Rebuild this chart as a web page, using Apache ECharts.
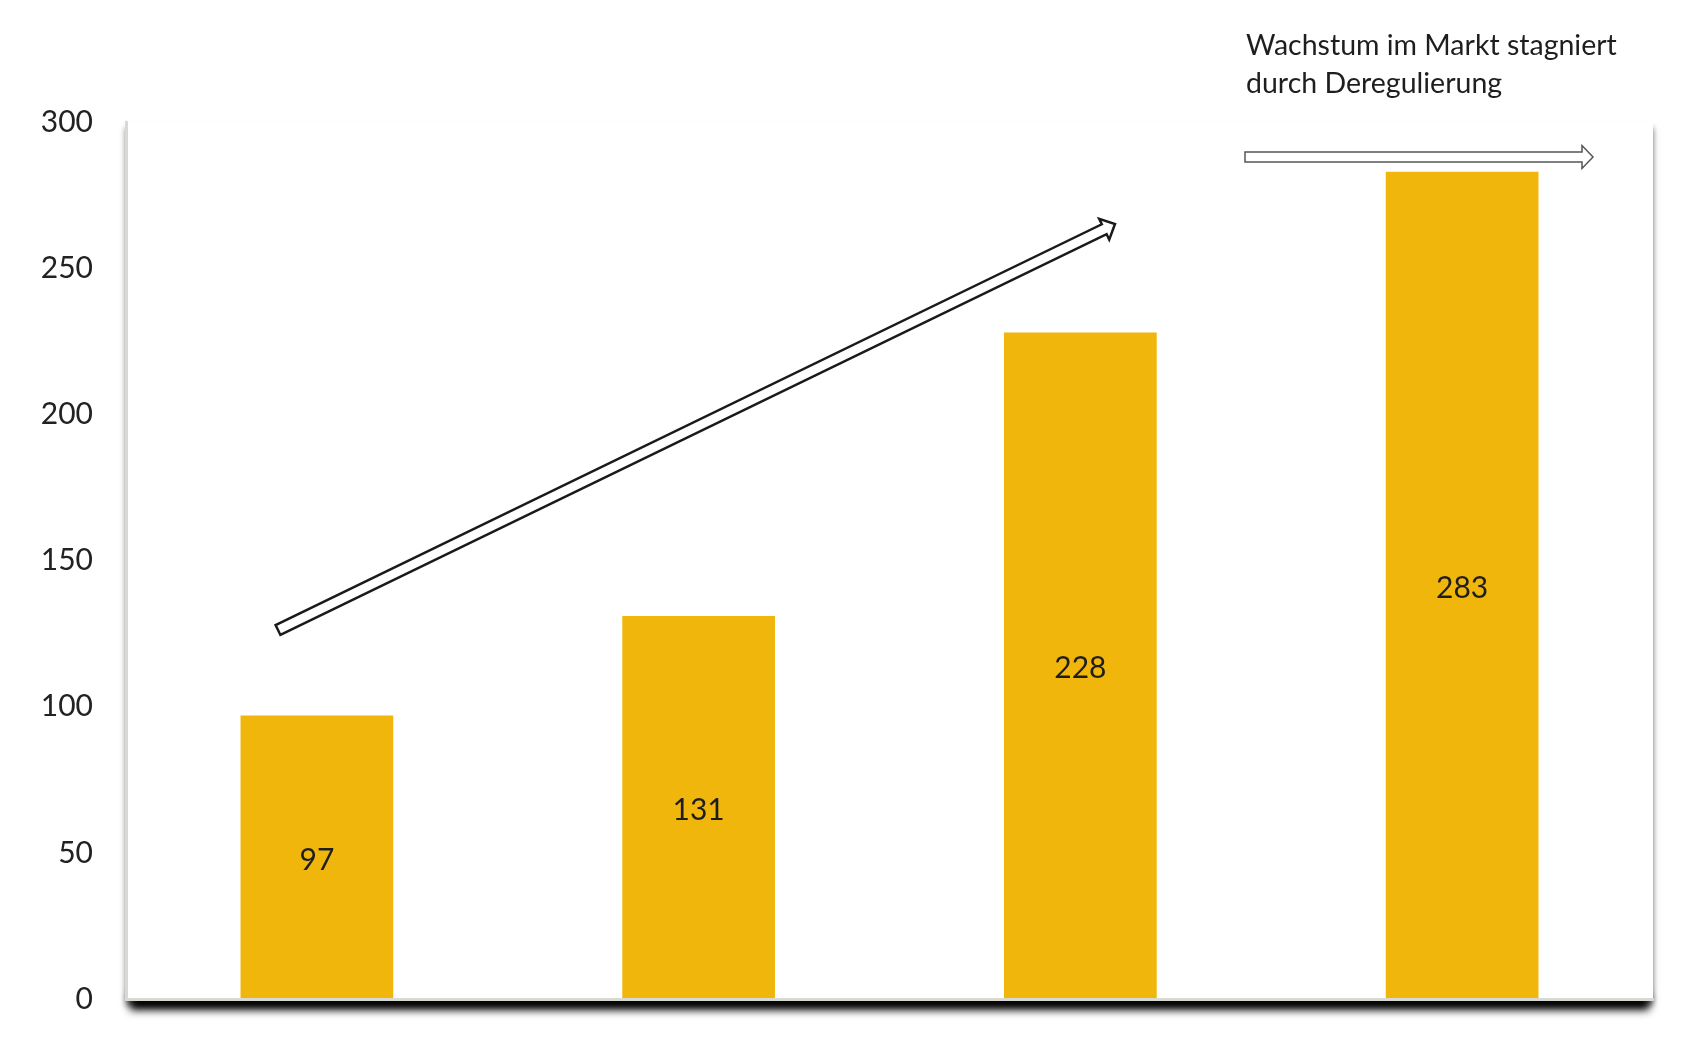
<!DOCTYPE html>
<html>
<head>
<meta charset="utf-8">
<script src="https://cdn.jsdelivr.net/npm/echarts@6/dist/echarts.min.js"></script>
<style>
html,body{margin:0;padding:0;background:#fff;}
#chart{width:1700px;height:1050px;}
</style>
</head>
<body>
<div id="chart"></div>
<script>
var categories = ['1', '2', '3', '4'];
var values = [97, 131, 228, 283];
var yTicks = [0, 50, 100, 150, 200, 250, 300];
var noteLines = ['Wachstum im Markt stagniert', 'durch Deregulierung'];

var G = {left: 126, right: 47, top: 122, bottom: 51};
var W = 1700, H = 1050;
var FONT = 'Lato, "Open Sans", "Noto Sans", sans-serif';

function arrowPoints(x0, y0, x1, y1, shaftHalf, headHalf, headLen) {
  var dx = x1 - x0, dy = y1 - y0;
  var len = Math.sqrt(dx * dx + dy * dy);
  var ux = dx / len, uy = dy / len;
  var nx = -uy, ny = ux;
  var bx = x1 - ux * headLen, by = y1 - uy * headLen;
  return [
    [x0 + nx * shaftHalf, y0 + ny * shaftHalf],
    [bx + nx * shaftHalf, by + ny * shaftHalf],
    [bx + nx * headHalf, by + ny * headHalf],
    [x1, y1],
    [bx - nx * headHalf, by - ny * headHalf],
    [bx - nx * shaftHalf, by - ny * shaftHalf],
    [x0 - nx * shaftHalf, y0 - ny * shaftHalf]
  ];
}

var chart = echarts.init(document.getElementById('chart'), null, {renderer: 'canvas'});
var plotW = W - G.left - G.right, plotH = H - G.top - G.bottom;
var plotBottom = H - G.bottom;

chart.setOption({
  backgroundColor: '#ffffff',
  animation: false,
  grid: {left: G.left, right: G.right, top: G.top, bottom: G.bottom, containLabel: false},
  xAxis: {
    type: 'category',
    data: categories,
    axisLine: {show: true, lineStyle: {color: '#d9d9d3', width: 3}},
    axisTick: {show: false},
    axisLabel: {show: false},
    splitLine: {show: false},
    z: 5
  },
  yAxis: {
    type: 'value',
    min: yTicks[0],
    max: yTicks[yTicks.length - 1],
    interval: yTicks[1] - yTicks[0],
    axisLine: {show: true, lineStyle: {color: '#d9d9d3', width: 3}},
    axisTick: {show: false},
    splitLine: {show: false},
    axisLabel: {
      show: true, margin: 33, color: '#222222',
      fontSize: 30, fontFamily: FONT
    },
    z: 5
  },
  graphic: [
    {
      type: 'rect', z: -11, silent: true,
      shape: {x: G.left + 4, y: plotBottom - 16, width: plotW - 8, height: 16},
      style: {
        fill: '#000000',
        shadowBlur: 9, shadowColor: 'rgba(0,0,0,1)',
        shadowOffsetX: 0, shadowOffsetY: 11
      }
    },
    {
      type: 'rect', z: -10, silent: true,
      shape: {x: G.left, y: G.top, width: plotW, height: plotH},
      style: {
        fill: '#ffffff',
        shadowBlur: 6, shadowColor: 'rgba(0,0,0,0.6)',
        shadowOffsetX: 0, shadowOffsetY: 6
      }
    },
    {
      type: 'text', left: 1246, top: 27, z: 20, silent: true,
      style: {
        text: noteLines.join('\n'),
        fontSize: 28.5, lineHeight: 38, fontFamily: FONT, fill: '#1e1e1e'
      }
    },
    {
      type: 'polygon', z: 20, silent: true,
      shape: {points: arrowPoints(1245, 157, 1593, 157, 5, 11.5, 11)},
      style: {fill: '#ffffff', stroke: '#555555', lineWidth: 1.5}
    },
    {
      type: 'polygon', z: 20, silent: true,
      shape: {points: arrowPoints(278, 630, 1115, 224, 5.5, 11.5, 12)},
      style: {fill: '#ffffff', stroke: '#1a1a1a', lineWidth: 2.5, lineJoin: 'miter'}
    }
  ],
  series: [{
    type: 'bar',
    data: values,
    barCategoryGap: '60%',
    itemStyle: {color: '#F0B60C'},
    label: {
      show: true, position: 'inside', color: '#1e1e1e',
      fontSize: 30, fontFamily: FONT, offset: [0, 3]
    },
    z: 2
  }]
});
</script>
</body>
</html>
